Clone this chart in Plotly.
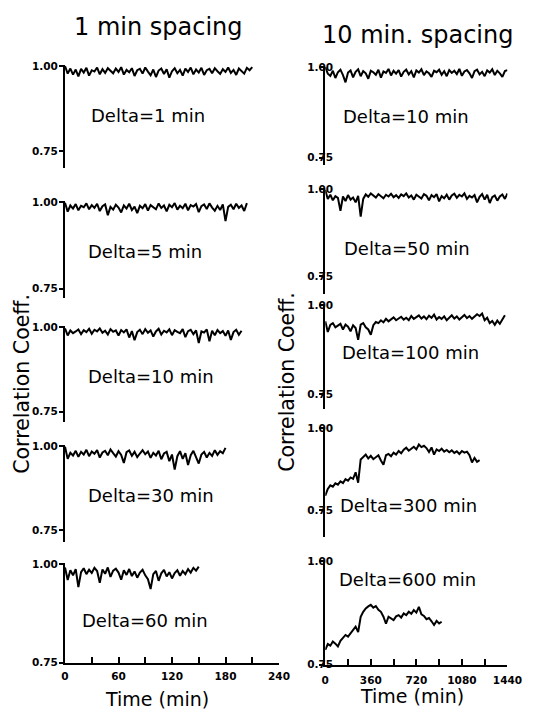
import plotly.graph_objects as go

# ---------------- data ----------------
LEFT_TITLE = "1 min spacing"
RIGHT_TITLE = "10 min. spacing"
Y_TITLE = "Correlation Coeff."
X_TITLE = "Time (min)"

left_labels = ["Delta=1 min", "Delta=5 min", "Delta=10 min", "Delta=30 min", "Delta=60 min"]
right_labels = ["Delta=10 min", "Delta=50 min", "Delta=100 min", "Delta=300 min", "Delta=600 min"]

LEFT_STEP = 3    # minutes between plotted samples (left column)
RIGHT_STEP = 20  # minutes between plotted samples (right column)

left_d1 = [1.000, 0.978, 0.993, 0.975, 0.990, 0.970, 0.992, 0.981, 0.995, 0.972,
           0.988, 0.984, 0.996, 0.976, 0.991, 0.980, 0.994, 0.986, 0.979, 0.993,
           0.983, 0.997, 0.975, 0.989, 0.982, 0.994, 0.971, 0.988, 0.992, 0.978,
           0.996, 0.984, 0.973, 0.990, 0.968, 0.987, 0.993, 0.977, 0.991, 0.966,
           0.985, 0.994, 0.979, 0.989, 0.972, 0.993, 0.983, 0.996, 0.976, 0.990,
           0.981, 0.995, 0.974, 0.988, 0.992, 0.979, 0.994, 0.985, 0.977, 0.991,
           0.983, 0.996, 0.980, 0.989, 0.974, 0.993, 0.986, 0.978, 0.995, 0.988, 0.997]
left_d5 = [0.998, 0.972, 0.990, 0.981, 0.994, 0.976, 0.989, 0.985, 0.996, 0.979,
           0.991, 0.983, 0.995, 0.974, 0.988, 0.993, 0.962, 0.986, 0.978, 0.992,
           0.984, 0.970, 0.990, 0.981, 0.995, 0.977, 0.987, 0.968, 0.989, 0.982,
           0.994, 0.975, 0.991, 0.986, 0.979, 0.996, 0.983, 0.990, 0.973, 0.992,
           0.985, 0.997, 0.978, 0.989, 0.982, 0.995, 0.976, 0.991, 0.987, 0.994,
           0.971, 0.988, 0.993, 0.980, 0.996, 0.984, 0.975, 0.989, 0.977, 0.993,
           0.945, 0.986, 0.992, 0.979, 0.995, 0.983, 0.990, 0.974, 0.997]
left_d10 = [0.996, 0.975, 0.990, 0.982, 0.987, 0.993, 0.979, 0.991, 0.985, 0.995,
            0.980, 0.992, 0.987, 0.996, 0.983, 0.989, 0.978, 0.994, 0.986, 0.990,
            0.975, 0.991, 0.984, 0.993, 0.969, 0.988, 0.961, 0.985, 0.992, 0.979,
            0.994, 0.983, 0.990, 0.972, 0.987, 0.995, 0.978, 0.989, 0.984, 0.993,
            0.976, 0.991, 0.986, 0.982, 0.994, 0.970, 0.988, 0.992, 0.979, 0.990,
            0.953, 0.987, 0.984, 0.993, 0.958, 0.989, 0.976, 0.991, 0.982, 0.988,
            0.974, 0.990, 0.962, 0.985, 0.992, 0.977, 0.989]
left_d30 = [0.998, 0.962, 0.980, 0.972, 0.986, 0.968, 0.983, 0.975, 0.989, 0.970,
            0.984, 0.977, 0.988, 0.966, 0.981, 0.986, 0.973, 0.990, 0.979, 0.969,
            0.985, 0.974, 0.950, 0.982, 0.987, 0.971, 0.983, 0.967, 0.978, 0.988,
            0.976, 0.984, 0.965, 0.980, 0.972, 0.986, 0.961, 0.978, 0.983, 0.955,
            0.975, 0.930, 0.970, 0.985, 0.962, 0.979, 0.944, 0.973, 0.986, 0.968,
            0.948, 0.975, 0.983, 0.966, 0.980, 0.971, 0.988, 0.974, 0.985, 0.979, 0.995]
left_d60 = [0.992, 0.960, 0.985, 0.972, 0.988, 0.942, 0.980, 0.990, 0.975, 0.986,
            0.978, 0.991, 0.983, 0.953, 0.987, 0.976, 0.992, 0.968, 0.984, 0.989,
            0.979, 0.961, 0.985, 0.973, 0.988, 0.970, 0.982, 0.966, 0.979, 0.986,
            0.972, 0.962, 0.937, 0.975, 0.983, 0.958, 0.977, 0.986, 0.969, 0.980,
            0.964, 0.978, 0.985, 0.971, 0.983, 0.975, 0.988, 0.979, 0.991, 0.984, 0.994]

right_d10 = [1.000, 0.982, 0.976, 0.990, 0.970, 0.986, 0.993, 0.978, 0.958, 0.985,
             0.991, 0.972, 0.987, 0.994, 0.975, 0.989, 0.983, 0.968, 0.990, 0.986,
             0.979, 0.993, 0.971, 0.988, 0.984, 0.995, 0.977, 0.990, 0.982, 0.992,
             0.974, 0.987, 0.993, 0.980, 0.989, 0.972, 0.991, 0.985, 0.994, 0.978,
             0.988, 0.983, 0.973, 0.990, 0.986, 0.993, 0.979, 0.989, 0.975, 0.992,
             0.984, 0.990, 0.981, 0.995, 0.976, 0.988, 0.992, 0.983, 0.970, 0.989,
             0.993, 0.980, 0.987, 0.975, 0.991, 0.985, 0.994, 0.978, 0.990, 0.983,
             0.973, 0.989, 0.992]
right_d50 = [0.998, 0.972, 0.984, 0.968, 0.980, 0.975, 0.938, 0.979, 0.966, 0.983,
             0.970, 0.976, 0.962, 0.981, 0.921, 0.972, 0.985, 0.978, 0.988, 0.982,
             0.976, 0.986, 0.980, 0.974, 0.984, 0.979, 0.987, 0.977, 0.983, 0.975,
             0.985, 0.980, 0.988, 0.976, 0.982, 0.970, 0.984, 0.979, 0.973, 0.986,
             0.981, 0.968, 0.983, 0.977, 0.986, 0.965, 0.980, 0.974, 0.984, 0.970,
             0.982, 0.987, 0.975, 0.984, 0.979, 0.988, 0.972, 0.981, 0.976, 0.983,
             0.962, 0.978, 0.986, 0.970, 0.984, 0.960, 0.977, 0.982, 0.967, 0.979,
             0.985, 0.972, 0.988]
right_d100 = [0.955, 0.925, 0.945, 0.950, 0.938, 0.942, 0.948, 0.932, 0.946, 0.940,
              0.927, 0.944, 0.936, 0.903, 0.946, 0.950, 0.938, 0.932, 0.917, 0.944,
              0.953, 0.950, 0.958, 0.952, 0.962, 0.955, 0.960, 0.966, 0.958, 0.964,
              0.968, 0.960, 0.965, 0.958, 0.970, 0.962, 0.967, 0.972, 0.963, 0.969,
              0.961, 0.971, 0.965, 0.974, 0.960, 0.967, 0.962, 0.969, 0.958, 0.966,
              0.972, 0.963, 0.969, 0.960, 0.967, 0.973, 0.964, 0.970, 0.962, 0.968,
              0.975, 0.970, 0.977, 0.958, 0.965, 0.950, 0.956, 0.945, 0.957, 0.948,
              0.962, 0.972]
right_d300 = [0.794, 0.815, 0.826, 0.822, 0.832, 0.828, 0.838, 0.833, 0.845, 0.840,
              0.850, 0.846, 0.866, 0.834, 0.905, 0.912, 0.920, 0.908, 0.916, 0.906,
              0.913, 0.918, 0.902, 0.889, 0.918, 0.922, 0.915, 0.926, 0.920, 0.931,
              0.924, 0.935, 0.941, 0.932, 0.938, 0.944, 0.936, 0.951, 0.943, 0.947,
              0.940, 0.928, 0.942, 0.920, 0.936, 0.931, 0.938, 0.929, 0.934, 0.927,
              0.933, 0.925, 0.930, 0.922, 0.931, 0.926, 0.929, 0.918, 0.896, 0.910,
              0.898, 0.903]
right_d600 = [0.786, 0.800, 0.796, 0.806, 0.801, 0.794, 0.808, 0.815, 0.822, 0.818,
              0.827, 0.836, 0.842, 0.829, 0.866, 0.878, 0.886, 0.891, 0.895, 0.888,
              0.892, 0.883, 0.878, 0.866, 0.849, 0.866, 0.862, 0.858, 0.867, 0.870,
              0.864, 0.874, 0.870, 0.878, 0.873, 0.882, 0.876, 0.890, 0.872, 0.868,
              0.860, 0.863, 0.855, 0.846, 0.856, 0.850, 0.854]

left_series = [left_d1, left_d5, left_d10, left_d30, left_d60]
right_series = [right_d10, right_d50, right_d100, right_d300, right_d600]

left_xticks = [0, 60, 120, 180, 240]
right_xticks = [0, 360, 720, 1080, 1440]
y_tickvals = [0.75, 1.00]
y_ticktext = ["0.75", "1.00"]

# ---------------- layout geometry (page pixels) ----------------
PAGE_W, PAGE_H = 542, 724
BODY_MARGIN = 8  # default browser body margin; figure sits inside it
W, H = PAGE_W - 2 * BODY_MARGIN, PAGE_H - 2 * BODY_MARGIN
# (pixel of 1.00, pixel of 0.75, pixel of axis bottom)
LEFT_PX = [(62, 148, 165), (200, 288, 297), (327, 413, 423), (448, 533, 545), (568, 668, 668)]
RIGHT_PX = [(63, 155, 162), (187, 275, 293), (305, 395, 410), (430, 513, 540), (565, 670, 670)]
LEFT_XPX = (63, 285)
RIGHT_XPX = (333, 522)
LEFT_LABEL_POS = [(149, 112), (146, 250), (152, 377), (152, 498), (146, 625)]
RIGHT_LABEL_POS = [(417, 113), (418, 247), (421, 353), (419, 508), (418, 583)]
YTOP = 1.004

FONT = "DejaVu Sans"


def fx(px):
    return (px - BODY_MARGIN) / W


def fy(py):
    return 1 - (py - BODY_MARGIN) / H


fig = go.Figure()
layout = dict(
    width=W, height=H, autosize=False,
    margin=dict(l=0, r=0, t=0, b=0),
    paper_bgcolor="white", plot_bgcolor="white",
    showlegend=False,
)

annotations = []
panels = []
for i in range(5):
    panels.append(("L", i, left_series[i], LEFT_PX[i], LEFT_XPX, LEFT_STEP, 240, left_xticks, 30,
                   left_labels[i], LEFT_LABEL_POS[i]))
for i in range(5):
    panels.append(("R", i, right_series[i], RIGHT_PX[i], RIGHT_XPX, RIGHT_STEP, 1440, right_xticks, 180,
                   right_labels[i], RIGHT_LABEL_POS[i]))

for n, (col, i, vals, ypx, xpx, step, xmax, xticks, minor_dt, label, lpos) in enumerate(panels, start=1):
    xs = [step * k for k in range(len(vals))]
    xa = "x" if n == 1 else f"x{n}"
    ya = "y" if n == 1 else f"y{n}"
    fig.add_trace(go.Scatter(x=xs, y=vals, mode="lines", xaxis=xa, yaxis=ya,
                             line=dict(color="black", width=2), hoverinfo="skip"))
    p100, p75, pb = ypx
    s = (p75 - p100) / 0.25
    top = p100 - (YTOP - 1) * s
    ymin = 1 - (pb - p100) / s
    bottom = (i == 4)
    xaxis = dict(domain=[fx(xpx[0]), fx(xpx[1])], range=[0, xmax], anchor=ya,
                 showgrid=False, zeroline=False)
    if bottom:
        xaxis.update(showline=True, linecolor="black", linewidth=2,
                     ticks="inside", ticklen=6, tickwidth=1.5, tickcolor="black",
                     tickmode="array", tickvals=xticks, ticktext=[str(v) for v in xticks],
                     tickfont=dict(family=FONT, size=10.5, color="black", weight="bold"),
                     ticklabelstandoff=(3 if col == "L" else 5),
                     minor=dict(dtick=minor_dt, tick0=0, ticks="inside", ticklen=6,
                                tickwidth=1.5, tickcolor="black"))
    else:
        xaxis.update(visible=False)
    yaxis = dict(domain=[fy(pb), fy(top)], range=[ymin, YTOP], anchor=xa,
                 showgrid=False, zeroline=False, showline=True, linecolor="black", linewidth=2,
                 ticks="outside", ticklen=4, tickwidth=1.5, tickcolor="black",
                 tickmode="array", tickvals=y_tickvals, ticktext=y_ticktext,
                 tickfont=dict(family=FONT, size=10.5, color="black", weight="bold"),
                 ticklabelstandoff=(-1 if col == "L" else -16))
    key = "" if n == 1 else str(n)
    layout["xaxis" + key] = xaxis
    layout["yaxis" + key] = yaxis
    annotations.append(dict(text=label, x=fx(lpos[0]), y=fy(lpos[1]), xref="paper", yref="paper",
                            showarrow=False, xanchor="center", yanchor="middle",
                            font=dict(family=FONT, size=18, color="black")))

annotations += [
    dict(text=LEFT_TITLE, x=fx(160), y=fy(22), xref="paper", yref="paper", showarrow=False,
         xanchor="center", yanchor="middle", font=dict(family=FONT, size=24, color="black")),
    dict(text=RIGHT_TITLE, x=fx(429), y=fy(30), xref="paper", yref="paper", showarrow=False,
         xanchor="center", yanchor="middle", font=dict(family=FONT, size=24, color="black")),
    dict(text=Y_TITLE, x=fx(19), y=fy(385), xref="paper", yref="paper", showarrow=False,
         textangle=-90, xanchor="center", yanchor="middle", font=dict(family=FONT, size=20.5, color="black")),
    dict(text=Y_TITLE, x=fx(294), y=fy(383), xref="paper", yref="paper", showarrow=False,
         textangle=-90, xanchor="center", yanchor="middle", font=dict(family=FONT, size=20.5, color="black")),
    dict(text=X_TITLE, x=fx(158), y=fy(705), xref="paper", yref="paper", showarrow=False,
         xanchor="center", yanchor="middle", font=dict(family=FONT, size=19, color="black")),
    dict(text=X_TITLE, x=fx(423), y=fy(702), xref="paper", yref="paper", showarrow=False,
         xanchor="center", yanchor="middle", font=dict(family=FONT, size=19, color="black")),
]
layout["annotations"] = annotations
fig.update_layout(**layout)

fig.write_html("out.html", config={"displayModeBar": False, "responsive": False})
